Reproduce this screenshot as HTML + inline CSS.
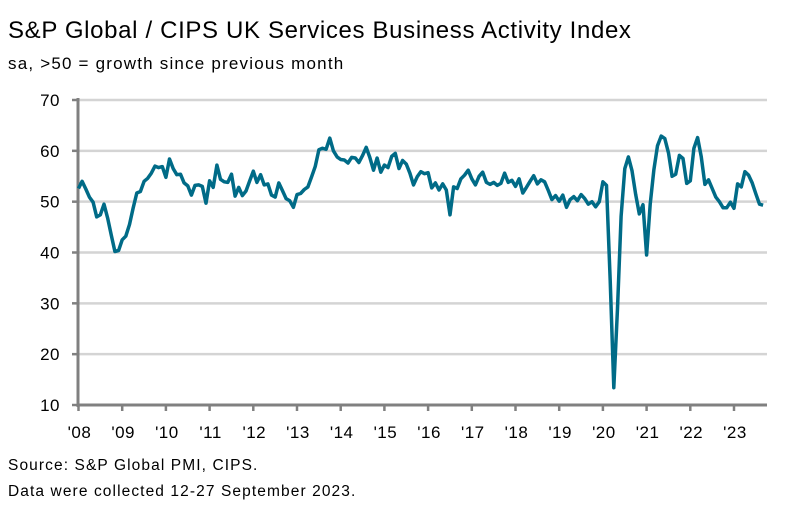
<!DOCTYPE html>
<html><head><meta charset="utf-8"><style>
body{margin:0;background:#fff;font-family:"Liberation Sans",sans-serif;}
#wrap{position:relative;width:795px;height:514px;overflow:hidden;}
.t{position:absolute;white-space:nowrap;color:#000;}
</style></head><body>
<div id="wrap">
<div class="t" style="left:8px;top:17px;font-size:24px;letter-spacing:0.65px;">S&amp;P Global / CIPS UK Services Business Activity Index</div>
<div class="t" style="left:8px;top:54px;font-size:17px;letter-spacing:1.2px;">sa, &gt;50 = growth since previous month</div>
<svg id="chart" width="795" height="514" style="position:absolute;left:0;top:0"></svg>
<div class="t" style="left:8px;top:457px;font-size:15.5px;letter-spacing:1.1px;">Source: S&amp;P Global PMI, CIPS.</div>
<div class="t" style="left:8px;top:483px;font-size:15.5px;letter-spacing:1.1px;">Data were collected 12-27 September 2023.</div>
</div>
<script>
const yTicks=[10,20,30,40,50,60,70];
const yearLabels=["'08","'09","'10","'11","'12","'13","'14","'15","'16","'17","'18","'19","'20","'21","'22","'23"];
const values=[
52.6,54.0,52.5,50.9,49.9,47.0,47.4,49.5,46.8,43.4,40.2,40.4,
42.5,43.2,45.5,48.7,51.7,52.0,54.0,54.6,55.6,57.0,56.7,56.9,
54.8,58.4,56.5,55.3,55.4,53.7,53.1,51.3,53.2,53.3,53.0,49.7,
54.1,52.8,57.2,54.4,53.9,53.8,55.4,51.1,52.8,51.2,52.1,54.1,
56.0,53.8,55.3,53.3,53.5,51.3,50.9,53.7,52.2,50.6,50.2,48.9,
51.4,51.6,52.4,52.9,54.9,56.9,60.2,60.5,60.3,62.5,60.0,58.8,
58.3,58.2,57.6,58.7,58.6,57.7,59.1,60.7,58.7,56.2,58.6,55.8,
57.2,56.7,58.9,59.5,56.5,58.1,57.4,55.6,53.3,54.9,55.9,55.5,
55.7,52.7,53.7,52.3,53.5,52.3,47.4,52.9,52.6,54.5,55.2,56.2,
54.5,53.3,55.0,55.8,53.8,53.4,53.8,53.2,53.6,55.6,53.8,54.2,
53.0,54.5,51.7,52.8,54.0,55.1,53.5,54.3,53.9,52.2,50.4,51.2,
50.1,51.3,48.9,50.4,51.0,50.2,51.4,50.6,49.5,50.0,49.0,50.0,
53.9,53.2,34.5,13.4,29.0,47.1,56.5,58.8,56.1,51.4,47.6,49.4,
39.5,49.5,56.3,61.0,62.9,62.4,59.6,55.0,55.4,59.1,58.5,53.6,
54.1,60.5,62.6,58.9,53.4,54.3,52.6,50.9,50.0,48.8,48.8,49.9,
48.7,53.5,52.9,55.9,55.2,53.7,51.5,49.5,49.3];
const NS="http://www.w3.org/2000/svg";
const svg=document.getElementById('chart');
const x0=78.5, yearW=43.7, monthW=yearW/12;
const xPos=i=>x0+i*monthW;
const yPos=v=>405-(v-10)*(305/60);
function mk(t,a){const e=document.createElementNS(NS,t);for(const k in a)e.setAttribute(k,a[k]);svg.appendChild(e);return e;}
yTicks.forEach(v=>{
  if(v>10){const g=mk('line',{x1:78,x2:767,y1:yPos(v),y2:yPos(v),stroke:'#d4d4d4','stroke-width':2.5});
  
  }
  const tk=mk('line',{x1:72,x2:78,y1:yPos(v),y2:yPos(v),stroke:'#808080','stroke-width':2.5});
  
  
  const t=mk('text',{x:60,y:yPos(v)+6,'text-anchor':'end','font-size':17,'letter-spacing':0.5,'font-family':'Liberation Sans, sans-serif',fill:'#000'});
  t.textContent=v;
  
  
});
const ya=mk('line',{x1:78,x2:78,y1:98,y2:407,stroke:'#808080','stroke-width':3});


const xa=mk('line',{x1:77,x2:767,y1:405,y2:405,stroke:'#808080','stroke-width':3});


yearLabels.forEach((l,k)=>{
  const x=x0+k*yearW;
  const tk=mk('line',{x1:x,x2:x,y1:405,y2:411,stroke:'#808080','stroke-width':2.5});
  
  
  const t=mk('text',{x:x+1,y:438,'text-anchor':'middle','font-size':17,'letter-spacing':0.5,'font-family':'Liberation Sans, sans-serif',fill:'#000'});
  t.textContent=l;
  
  
});
const d=values.map((v,i)=>(i?'L':'M')+xPos(i).toFixed(1)+','+yPos(v).toFixed(1)).join('');
const p=mk('path',{d:d,fill:'none',stroke:'#006b87','stroke-width':3.5,'stroke-linejoin':'round'});


</script>
</body></html>
